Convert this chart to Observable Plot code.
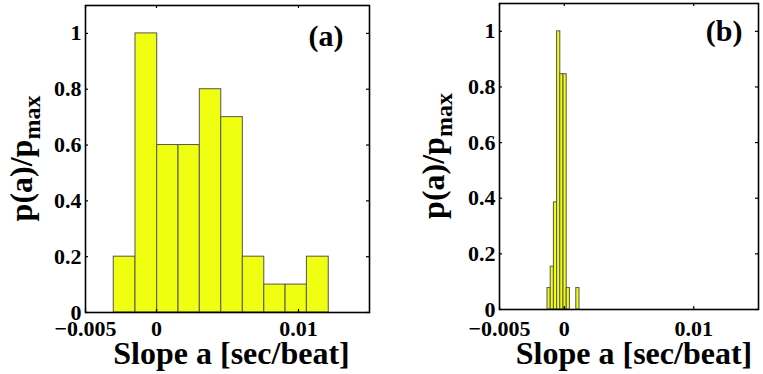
<!DOCTYPE html>
<html>
<head>
<meta charset="utf-8">
<script src="https://cdn.jsdelivr.net/npm/d3@7"></script>
<script src="https://cdn.jsdelivr.net/npm/@observablehq/plot@0.6"></script>
<style>
  html, body { margin: 0; padding: 0; background: white; }
  #wrap { display: flex; flex-direction: row; width: 763px; height: 374px; }
  svg { display: block; }
</style>
</head>
<body>
<div id="wrap"></div>
<script>
// ---- data ----
const edgesA = [-0.00301, -0.00148, 0.00005, 0.00155, 0.00305, 0.00456, 0.00608, 0.00759, 0.00909, 0.01059, 0.01213];
const valuesA = [0.2, 1, 0.6, 0.6, 0.8, 0.7, 0.2, 0.1, 0.1, 0.2];
const edgesB = [-0.001293, -0.001046, -0.000799, -0.000552, -0.000305, -0.000058, 0.000189, 0.000436, 0.000683, 0.000930, 0.001178];
const valuesB = [0.077, 0.154, 0.385, 1, 0.846, 0.846, 0.077, 0, 0, 0.077];
const xTicks = [-0.005, 0, 0.01];
const xTickLabels = ["\u22120.005", "0", "0.01"];
const yTicks = [0, 0.2, 0.4, 0.6, 0.8, 1];
const yTickLabels = ["0", "0.2", "0.4", "0.6", "0.8", "1"];
const xDomain = [-0.005, 0.015];
const yDomain = [0, 1.1];
const panelLabels = ["(a)", "(b)"];
const xTitle = "Slope a [sec/beat]";
const yTitleMain = "p(a)/p";
const yTitleSub = "max";

const FONT = "'Liberation Serif', 'Times New Roman', serif";

function panel(edges, values, label, L) {
  const bins = values.map((v, i) => ({x1: edges[i], x2: edges[i + 1], y: v})).filter(d => d.y > 0);
  const pw = L.width - L.ml - L.mr;
  const ph = L.height - L.mt - L.mb;
  const tl = 3;
  const svg = Plot.plot({
    width: L.width, height: L.height,
    marginLeft: L.ml, marginRight: L.mr, marginTop: L.mt, marginBottom: L.mb,
    style: {fontFamily: FONT, fontWeight: "bold", fontSize: "22px", background: "white", color: "black", overflow: "visible"},
    x: {domain: xDomain, axis: null},
    y: {domain: yDomain, axis: null},
    marks: [
      Plot.rectY(bins, {x1: "x1", x2: "x2", y: "y", fill: "#f0ff10", stroke: "#555", strokeWidth: 1}),
      Plot.axisY(yTicks, {anchor: "left", label: null, tickSize: 0, tickPadding: L.ypad, tickFormat: (d, i) => yTickLabels[i], fontSize: 22}),
      Plot.axisX(xTicks, {anchor: "bottom", label: null, tickSize: 0, tickPadding: L.xpad, tickFormat: (d, i) => xTickLabels[i], fontSize: 22}),
      Plot.tickY(yTicks, {y: d => d, stroke: "black", strokeWidth: 1.2, insetRight: pw - tl}),
      Plot.tickY(yTicks, {y: d => d, stroke: "black", strokeWidth: 1.2, insetLeft: pw - tl}),
      Plot.tickX(xTicks, {x: d => d, stroke: "black", strokeWidth: 1.2, insetTop: ph - tl}),
      Plot.tickX(xTicks, {x: d => d, stroke: "black", strokeWidth: 1.2, insetBottom: ph - tl}),
      Plot.frame({stroke: "black", strokeWidth: 1.6}),
      Plot.text([label], {frameAnchor: "top-right", textAnchor: "end", lineAnchor: "top", dx: L.ldx, dy: L.ldy, fontSize: 30, fontWeight: "bold", fill: "black"}),
      Plot.text([xTitle], {frameAnchor: "bottom", lineAnchor: "middle", dx: L.tdx, dy: L.tdy, fontSize: 32, fontWeight: "bold", fill: "black"})
    ]
  });
  // rotated y title with subscript
  const s = d3.select(svg);
  const t = s.append("text")
    .attr("transform", `translate(${L.ytx},${L.mt + ph / 2}) rotate(-90)`)
    .attr("text-anchor", "middle")
    .attr("font-family", FONT)
    .attr("font-weight", "bold")
    .attr("font-size", 32)
    .attr("fill", "black");
  t.append("tspan").text(yTitleMain);
  t.append("tspan").attr("font-size", 24).attr("dy", 8).text(yTitleSub);
  return svg;
}

const wrap = document.getElementById("wrap");
wrap.appendChild(panel(edgesA, valuesA, panelLabels[0],
  {width: 380, height: 374, ml: 85, mr: 11, mt: 5, mb: 62, ypad: 4, xpad: 8, ldx: -26, ldy: 19, tdx: 4, tdy: 41, ytx: 32}));
wrap.appendChild(panel(edgesB, valuesB, panelLabels[1],
  {width: 383, height: 374, ml: 119, mr: 5, mt: 3, mb: 65, ypad: 4, xpad: 11, ldx: -16, ldy: 16, tdx: 5, tdy: 44, ytx: 64}));
</script>
</body>
</html>
